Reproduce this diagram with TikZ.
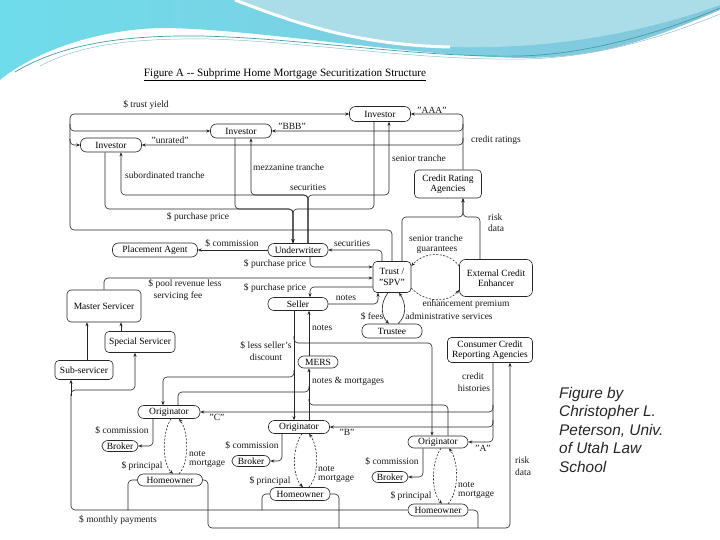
\documentclass[tikz,border=0pt]{standalone}
\usepackage{fontspec}
\setmainfont{Liberation Serif}
\newfontfamily\capfont{Liberation Sans}
\usetikzlibrary{arrows.meta}
\newcommand\dfont{\fontsize{9.5}{10.5}\selectfont}
\definecolor{wavebl}{HTML}{86C6DA}
\definecolor{wavecy}{HTML}{6FDCEB}
\definecolor{wavepale}{HTML}{AADDE8}
\definecolor{waveln}{HTML}{3E9FAE}
\tikzset{
  box/.style={draw=black!85, line width=0.6pt, rounded corners=4pt, inner sep=0pt, align=center, font=\dfont},
  pill/.style={box, rounded corners=6pt},
  ln/.style={draw=black!85, line width=0.6pt, rounded corners=4pt},
  ar/.style={ln, -{Stealth[length=4pt,width=3.2pt]}},
  dl/.style={ar, rounded corners=0pt, dash pattern=on 2pt off 1.5pt},
  lb/.style={font=\dfont, inner sep=0pt, text=black!90},
}
\begin{document}
\begin{tikzpicture}[x=1pt,y=-1pt]
\useasboundingbox (0,0) rectangle (720,540);
\fill[white] (0,0) rectangle (720,540);
% decorative wave
\shade[left color=wavecy, right color=wavebl] (0,0) -- (720,0) -- (720,10) .. controls (650,40) and (600,58) .. (520,58) .. controls (400,55) and (250,28) .. (160,28) .. controls (90,30) and (30,55) .. (0,80) -- cycle;
\fill[wavepale] (235,0) .. controls (300,25) and (360,45) .. (450,47) .. controls (560,50) and (650,30) .. (720,5) -- (720,0) -- cycle;
\draw[white, line width=3pt] (235,0) .. controls (300,25) and (360,45) .. (450,47);
\draw[waveln, line width=0.7pt] (15,72) .. controls (60,45) and (120,35) .. (200,36) .. controls (300,38) and (420,58) .. (520,56) .. controls (600,54) and (680,25) .. (720,8);
\draw[waveln!60, line width=0.5pt] (40,66) .. controls (80,45) and (130,38) .. (210,39) .. controls (310,42) and (420,61) .. (525,59) .. controls (610,57) and (680,30) .. (720,14);

% title
\node[font=\fontsize{11.2}{13}\selectfont, inner sep=0pt] (title) at (285,75) {\underline{Figure A -{}- Subprime Home Mortgage Securitization Structure}};

% nodes
\node[pill, minimum width=61, minimum height=15] (inA) at (380,114) {Investor};
\node[pill, minimum width=61, minimum height=14] (inB) at (241,131) {Investor};
\node[pill, minimum width=61, minimum height=14] (inU) at (111,145) {Investor};
\node[box, minimum width=67, minimum height=28] (cra) at (448,184) {Credit Rating\\Agencies};
\node[pill, minimum width=85, minimum height=14] (pa) at (155,250) {Placement Agent};
\node[pill, minimum width=60, minimum height=13] (uw) at (298,250) {Underwriter};
\node[box, minimum width=38, minimum height=31] (trust) at (392,277) {Trust /\\"SPV"};
\node[box, rounded corners=6pt, minimum width=73, minimum height=37] (ece) at (496,278) {External Credit\\Enhancer};
\node[pill, minimum width=60, minimum height=13] (seller) at (298,304) {Seller};
\node[pill, minimum width=60, minimum height=14] (trustee) at (392,331) {Trustee};
\node[box, minimum width=74, minimum height=32] (ms) at (104,306) {Master Servicer};
\node[box, minimum width=70, minimum height=21] (ss) at (140,342) {Special Servicer};
\node[box, minimum width=58, minimum height=19] (sub) at (84,370) {Sub-servicer};
\node[box, minimum width=85, minimum height=25] (ccra) at (490,350) {Consumer Credit\\Reporting Agencies};
\node[pill, minimum width=40, minimum height=12] (mers) at (318,362) {MERS};
\node[pill, minimum width=62, minimum height=13] (origC) at (169,412) {Originator};
\node[pill, minimum width=61, minimum height=13] (origB) at (299,427) {Originator};
\node[pill, minimum width=60, minimum height=12] (origA) at (438,442) {Originator};
\node[pill, minimum width=36, minimum height=11] (brC) at (120,446) {Broker};
\node[pill, minimum width=38, minimum height=11] (brB) at (251,461) {Broker};
\node[pill, minimum width=36, minimum height=11] (brA) at (390,477) {Broker};
\node[pill, minimum width=65, minimum height=12] (homeC) at (170,480) {Homeowner};
\node[pill, minimum width=60, minimum height=13] (homeB) at (300,494) {Homeowner};
\node[pill, minimum width=60, minimum height=12] (homeA) at (438,510) {Homeowner};

% trust yield
\draw[ar] (trust.north) -- (trust.north |- 0,230) -- (70,230) -- (70,114) -- (inA.west);
\draw[ar] (70,124) -- (70,131) -- (inB.west);
\draw[ar] (70,139) -- (70,145) -- (inU.west);
% credit ratings
\draw[ar] (cra.north -| 463,0) -- (463,114) -- (inA.east);
\draw[ar] (463,124) -- (463,131) -- (inB.east);
\draw[ar] (463,138) -- (463,145) -- (inU.east);
% securities to investors
\draw[ar] (uw.north -| 308,0) -- (308,195) -- (389,195) -- (inA.south -| 389,0);
\draw[ar] (uw.north -| 308,0) -- (308,195) -- (251,195) -- (inB.south -| 251,0);
\draw[ar] (uw.north -| 308,0) -- (308,195) -- (121,195) -- (inU.south -| 121,0);
% purchase price investors -> underwriter
\draw[ar] (inU.south -| 105,0) -- (105,209) -- (293,209) -- (uw.north -| 293,0);
\draw[ar] (inB.south -| 235,0) -- (235,209) -- (293,209) -- (uw.north -| 293,0);
\draw[ar] (inA.south -| 374,0) -- (374,209) -- (293,209) -- (uw.north -| 293,0);
% commission
\draw[ar] (uw.west) -- (pa.east);
% securities trust -> underwriter
\draw[ar] (trust.north -| 382,0) -- (382,250) -- (uw.east);
% purchase price underwriter -> trust
\draw[ar] (uw.south -| 310,0) -- (310,267) -- (trust.west |- 0,267);
% pool revenue
\draw[ar] (ms.north) -- (ms.north |- 0,278) -- (trust.west |- 0,278);
% purchase price trust -> seller
\draw[ar] (trust.west |- 0,287) -- (310,287) -- (seller.north -| 310,0);
% notes seller -> trust
\draw[ar] (seller.east) -- (378,304) -- (trust.south -| 378,0);
% trustee loop
\draw[ar, rounded corners=0pt] (trust.south -| 388,0) .. controls (380,303) and (381,316) .. (trustee.north -| 389,0);
\draw[ar, rounded corners=0pt] (trustee.north -| 398,0) .. controls (407,316) and (406,303) .. (trust.south -| 399,0);
% credit enhancer loop
\draw[dl] (ece.west |- 0,266) .. controls (448,251) and (425,251) .. (trust.east |- 0,266);
\draw[dl] (trust.east |- 0,288) .. controls (425,303) and (448,303) .. (ece.west |- 0,290);
% risk data to CRA
\draw[ar] (trust.north -| 402,0) -- (402,217) -- (463,217) -- (cra.south -| 463,0);
\draw[ar] (ece.north -| 480,0) -- (480,217) -- (463,217) -- (cra.south -| 463,0);
% servicers
\draw[ar] (sub.north -| 87,0) -- (ms.south -| 87,0);
\draw[ar] (ss.north -| 121,0) -- (ms.south -| 121,0);
% monthly payments
\draw[ar] (homeA.west) -- (71,510) -- (71,390) -- (135,390) -- (ss.south -| 135,0);
\draw[ar] (71,396) -- (sub.south -| 71,0);
\draw[ln] (homeC.west) -- (128,480) -- (128,510);
\draw[ln] (homeB.west) -- (262,494) -- (262,510);
% risk data from homeowners
\draw[ar] (homeC.east) -- (208,480) -- (208,528) -- (510,528) -- (ccra.south -| 510,0);
\draw[ln] (homeB.east) -- (339,494) -- (339,528);
\draw[ln] (homeA.east) -- (478,510) -- (478,528);
% credit histories
\draw[ar] (ccra.south -| 493,0) -- (493,442) -- (origA.east);
\draw[ar] (493,420) -- (493,427) -- (origB.east);
\draw[ar] (493,405) -- (493,412) -- (origC.east);
% seller's discount
\draw[ar] (seller.south -| 294,0) -- (origB.north -| 294,0);
\draw[ar] (294,336) -- (294,343) -- (432,343) -- (origA.north -| 432,0);
\draw[ar] (294,370) -- (294,377) -- (163,377) -- (origC.north -| 163,0);
% notes & mortgages
\draw[ar] (origB.north -| 309,0) -- (mers.south -| 309,0);
\draw[ar] (mers.north -| 309,0) -- (seller.south -| 309,0);
\draw[ln] (origC.north -| 178,0) -- (178,392) -- (309,392) -- (309,386);
\draw[ln] (origA.north -| 448,0) -- (448,405) -- (309,405) -- (309,399);
% brokers
\draw[ar] (origC.south -| 153,0) -- (153,446) -- (brC.east);
\draw[ar] (origB.south -| 282,0) -- (282,461) -- (brB.east);
\draw[ar] (origA.south -| 423,0) -- (423,477) -- (brA.east);
% originator-homeowner loops
\draw[dl] (origC.south -| 171,0) .. controls (162,432) and (162,464) .. (homeC.north -| 173,0);
\draw[dl] (homeC.north -| 179,0) .. controls (189,464) and (189,432) .. (origC.south -| 179,0);
\draw[dl] (origB.south -| 302,0) .. controls (292,447) and (292,476) .. (homeB.north -| 303,0);
\draw[dl] (homeB.north -| 309,0) .. controls (319,476) and (319,447) .. (origB.south -| 309,0);
\draw[dl] (origA.south -| 441,0) .. controls (431,462) and (431,492) .. (homeA.north -| 442,0);
\draw[dl] (homeA.north -| 448,0) .. controls (459,492) and (459,462) .. (origA.south -| 449,0);

% labels
\node[lb] (ltrust) at (146,105) {\$ trust yield};
\node[lb] (lAAA) at (432,110) {"AAA"};
\node[lb] (lBBB) at (292,126) {"BBB"};
\node[lb] (lunr) at (170,140) {"unrated"};
\node[lb] (lcr) at (496,140) {credit ratings};
\node[lb, anchor=west] (lsen) at (392,158) {senior tranche};
\node[lb, anchor=west] (lmez) at (253,167) {mezzanine tranche};
\node[lb, anchor=west] (lsub) at (125,175) {subordinated tranche};
\node[lb] (lsec1) at (308,187) {securities};
\node[lb] (lpp1) at (198,217) {\$ purchase price};
\node[lb, anchor=west] (lrk1) at (488,217) {risk};
\node[lb, anchor=west] (ldt1) at (488,228) {data};
\node[lb] (lcom) at (232,243) {\$ commission};
\node[lb] (lsec2) at (352,243) {securities};
\node[lb] (lstg1) at (436,238) {senior tranche};
\node[lb] (lstg2) at (437,250) {guarantees};
\node[lb] (lpp2) at (275,264) {\$ purchase price};
\node[lb] (lpool1) at (185,284) {\$ pool revenue less};
\node[lb] (lpool2) at (178,296) {servicing fee};
\node[lb] (lpp3) at (275,288) {\$ purchase price};
\node[lb] (lnotes1) at (346,298) {notes};
\node[lb] (lenh) at (466,304) {enhancement premium};
\node[lb] (lfees) at (372,316) {\$ fees};
\node[lb] (ladm) at (449,316) {administrative services};
\node[lb, anchor=west] (lnotes2) at (312,328) {notes};
\node[lb] (lless1) at (266,345) {\$ less seller's};
\node[lb] (lless2) at (266,357) {discount};
\node[lb] (lcred1) at (473,376) {credit};
\node[lb] (lcred2) at (474,388) {histories};
\node[lb, anchor=west] (lnm) at (312,381) {notes \& mortgages};
\node[lb] (lC) at (217,417) {"C"};
\node[lb] (lB) at (347,432) {"B"};
\node[lb] (lA) at (483,448) {"A"};
\node[lb] (lcomC) at (122,430) {\$ commission};
\node[lb] (lcomB) at (252,445) {\$ commission};
\node[lb] (lcomA) at (392,461) {\$ commission};
\node[lb, anchor=west] (lrk2) at (515,460) {risk};
\node[lb, anchor=west] (ldt2) at (515,472) {data};
\node[lb, anchor=west] (lnoteC) at (189,454) {note};
\node[lb, anchor=west] (lmortC) at (189,464) {mortgage};
\node[lb] (lprinC) at (142,466) {\$ principal};
\node[lb, anchor=west] (lnoteB) at (318,469) {note};
\node[lb, anchor=west] (lmortB) at (318,479) {mortgage};
\node[lb] (lprinB) at (270,481) {\$ principal};
\node[lb, anchor=west] (lnoteA) at (458,485) {note};
\node[lb, anchor=west] (lmortA) at (458,495) {mortgage};
\node[lb] (lprinA) at (411,496) {\$ principal};
\node[lb] (lmonth) at (118,520) {\$ monthly payments};

% caption
\node[anchor=north west, align=left, inner sep=0pt, text=black!85, font=\capfont\itshape\fontsize{15.4}{18.5}\selectfont] (cap) at (559,387) {Figure by\\Christopher L.\\Peterson, Univ.\\of Utah Law\\School};
\end{tikzpicture}
\end{document}
